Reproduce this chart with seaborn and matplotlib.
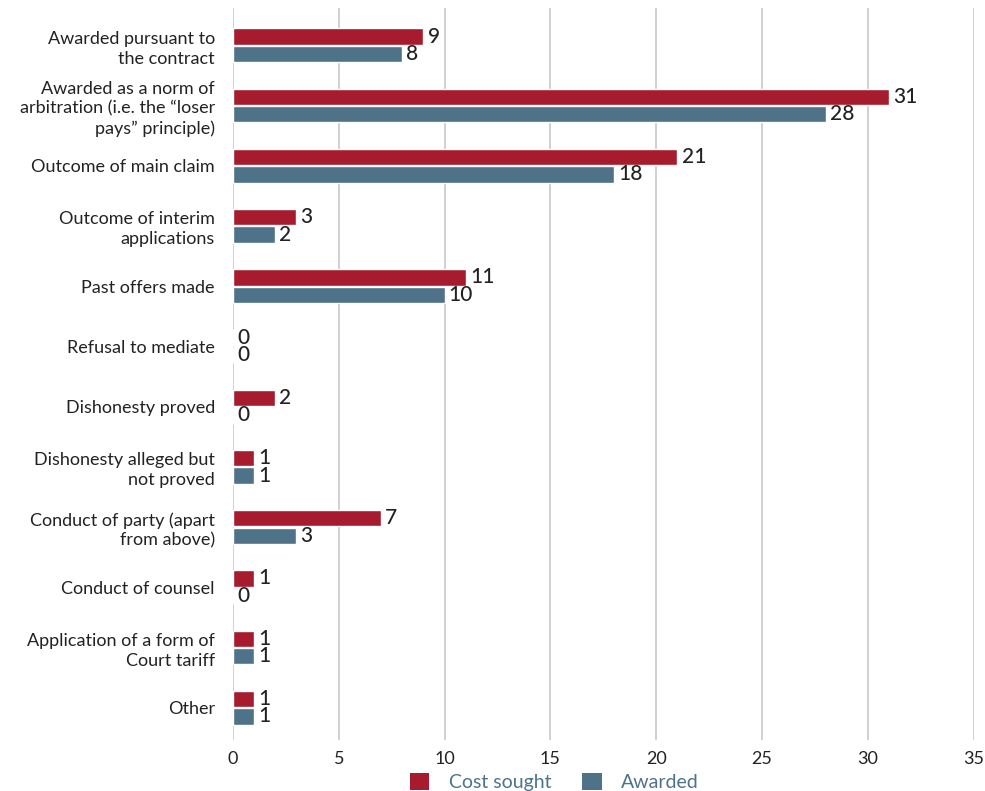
import matplotlib.pyplot as plt
import pandas as pd
import seaborn as sns
from matplotlib.patches import Patch

categories = [
  "Awarded pursuant to\nthe contract",
  "Awarded as a norm of\narbitration (i.e. the \u201closer\npays\u201d principle)",
  "Outcome of main claim",
  "Outcome of interim\napplications",
  "Past offers made",
  "Refusal to mediate",
  "Dishonesty proved",
  "Dishonesty alleged but\nnot proved",
  "Conduct of party (apart\nfrom above)",
  "Conduct of counsel",
  "Application of a form of\nCourt tariff",
  "Other",
]
cost_sought = [9, 31, 21, 3, 11, 0, 2, 1, 7, 1, 1, 1]
awarded = [8, 28, 18, 2, 10, 0, 0, 1, 3, 0, 1, 1]
series_names = ["Cost sought", "Awarded"]
colors = ["#a61c2e", "#4e7389"]

df = pd.DataFrame({
  "category": categories * 2,
  "value": cost_sought + awarded,
  "series": [series_names[0]] * len(categories) + [series_names[1]] * len(categories),
})

sns.set_style("white")
plt.rcParams["font.family"] = ["Lato", "DejaVu Sans"]

fig = plt.figure(figsize=(9.85, 7.91), dpi=100)
ax = fig.add_axes([0.2365, 0.065, 0.752, 0.925])

sns.barplot(
  data=df, y="category", x="value", hue="series", order=categories,
  hue_order=series_names, palette=colors, orient="h", width=0.58, gap=0.06,
  ax=ax, legend=False, saturation=1,
)

for container in ax.containers:
  ax.bar_label(container, padding=3, fontsize=15, color="#222222", fontweight="medium")

ax.set_xlim(0, 35)
ax.set_ylim(11.53, -0.62)
ax.set_xticks(range(0, 36, 5))
ax.set_xlabel("")
ax.set_ylabel("")
ax.grid(axis="x", color="#c8c8c8", linewidth=1.2)
ax.set_axisbelow(True)
for side in ["top", "right", "bottom", "left"]:
  ax.spines[side].set_visible(False)
ax.tick_params(axis="y", length=0, labelsize=13, labelcolor="#222222", pad=13)
ax.tick_params(axis="x", length=6, color="#c8c8c8", width=1.2, labelsize=13, labelcolor="#222222", pad=2)
for lbl in ax.get_yticklabels():
  lbl.set_horizontalalignment("right")
  lbl.set_multialignment("right")
  lbl.set_linespacing(1.3)

handles = [Patch(facecolor=c, edgecolor="none") for c in colors]
leg = fig.legend(
  handles, series_names, loc="lower center", bbox_to_anchor=(0.563, -0.022), ncol=2,
  frameon=False, fontsize=14, handlelength=1.0, handleheight=1.0, columnspacing=1.6,
  handletextpad=1.0,
)
for txt in leg.get_texts():
  txt.set_color("#4e7389")

fig.savefig("out.png", dpi=100)
